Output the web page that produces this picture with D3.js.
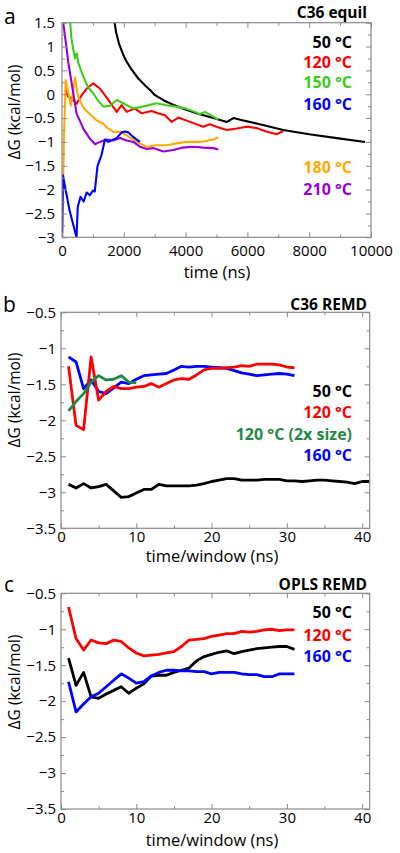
<!DOCTYPE html>
<html><head><meta charset="utf-8">
<script src="https://cdn.jsdelivr.net/npm/d3@7"></script>
<style>body{margin:0;background:#fff;} svg{display:block;font-family:"Open Sans",sans-serif;}</style>
</head><body><svg id="c" width="400" height="853"></svg>
<script>
// ---------- DATA ----------
// Panel a: C36 equil, [time (ns), ΔG]
const a50 = [[1690,1.55],[1750,1.3],[1850,1.05],[2000,0.8],[2093,0.68],[2250,0.52],[2470,0.33],[2700,0.18],[2850,0.09],[3010,-0.02],[3300,-0.13],[3600,-0.22],[3950,-0.31],[4400,-0.41],[4900,-0.5],[5330,-0.58],[5420,-0.55],[5550,-0.5],[5800,-0.54],[6400,-0.63],[7160,-0.75],[8000,-0.84],[8890,-0.92],[9810,-1.0]];
const a120 = [[100,0.1],[200,-0.05],[314,-0.09],[476,-0.2],[560,-0.1],[638,-0.02],[800,0.12],[1013,0.23],[1100,0.18],[1230,0.12],[1500,-0.12],[1770,-0.37],[1930,-0.23],[2094,-0.37],[2362,-0.3],[2580,-0.4],[2900,-0.35],[3100,-0.4],[3333,-0.44],[3550,-0.58],[3764,-0.49],[3980,-0.54],[4142,-0.58],[4573,-0.68],[4790,-0.63],[5000,-0.68],[5330,-0.75],[5654,-0.72],[5977,-0.68],[6300,-0.71],[6600,-0.78],[6948,-0.84],[7160,-0.77]];
const a150 = [[260,1.55],[300,1.2],[366,0.93],[420,0.75],[480,0.86],[530,0.65],[690,0.37],[850,0.14],[1000,0.03],[1150,-0.12],[1340,-0.26],[1550,-0.24],[1770,-0.12],[1980,-0.19],[2300,-0.3],[2620,-0.26],[3050,-0.19],[3370,-0.23],[3690,-0.26],[4000,-0.3],[4300,-0.37],[4460,-0.42],[4620,-0.37],[4900,-0.47],[5050,-0.53]];
const a160 = [[0,-3.2],[30,-1.7],[100,-1.95],[250,-2.45],[470,-3.0],[510,-2.36],[600,-2.15],[700,-2.25],[800,-2.06],[900,-2.12],[1000,-2.02],[1060,-2.04],[1150,-1.5],[1280,-1.27],[1390,-0.95],[1500,-1.0],[1660,-0.95],[1770,-0.92],[1930,-0.8],[2040,-0.78],[2150,-0.8],[2310,-0.9],[2520,-1.0]];
const a180 = [[0,-3.1],[60,-1.0],[120,0.3],[200,0.05],[290,-0.24],[420,0.35],[520,-0.05],[690,-0.28],[900,-0.42],[1120,-0.55],[1340,-0.62],[1450,-0.7],[1660,-0.79],[1880,-0.79],[2090,-0.86],[2310,-0.96],[2520,-1.03],[2740,-1.1],[3060,-1.07],[3390,-1.07],[3710,-1.03],[4000,-1.0],[4470,-1.0],[4900,-0.95],[5060,-0.9]];
const a210 = [[0,1.6],[40,1.5],[150,0.95],[200,0.68],[260,0.44],[366,0.02],[470,-0.4],[690,-0.72],[900,-0.93],[1070,-1.05],[1230,-1.0],[1440,-0.95],[1660,-0.97],[1880,-0.92],[2090,-0.97],[2310,-1.0],[2520,-1.1],[2740,-1.15],[2950,-1.13],[3280,-1.2],[3600,-1.17],[3880,-1.12],[4250,-1.1],[4580,-1.12],[4900,-1.13],[5060,-1.16]];

// Panel b: C36 REMD, ΔG per window (window = 1, 2, 3, ...)
const b50 = [-2.89,-2.94,-2.88,-2.94,-2.92,-2.89,-2.98,-3.07,-3.06,-3.01,-2.96,-2.96,-2.89,-2.91,-2.91,-2.91,-2.91,-2.90,-2.88,-2.85,-2.83,-2.81,-2.81,-2.83,-2.83,-2.83,-2.82,-2.82,-2.82,-2.84,-2.84,-2.85,-2.84,-2.83,-2.83,-2.84,-2.85,-2.86,-2.88,-2.85,-2.85];
const b120 = [-1.25,-2.07,-2.13,-1.12,-1.72,-1.60,-1.53,-1.56,-1.56,-1.54,-1.53,-1.49,-1.54,-1.49,-1.44,-1.42,-1.43,-1.37,-1.30,-1.28,-1.28,-1.27,-1.26,-1.24,-1.25,-1.22,-1.22,-1.22,-1.23,-1.26,-1.27];
const b120x2 = [-1.87,-1.74,-1.63,-1.47,-1.38,-1.44,-1.43,-1.38,-1.47,-1.48];
const b160 = [-1.12,-1.19,-1.56,-1.44,-1.60,-1.63,-1.55,-1.47,-1.49,-1.43,-1.38,-1.37,-1.36,-1.35,-1.30,-1.25,-1.26,-1.25,-1.25,-1.26,-1.27,-1.28,-1.31,-1.34,-1.36,-1.38,-1.37,-1.36,-1.35,-1.36,-1.38];

// Panel c: OPLS REMD
const c50 = [-1.40,-1.78,-1.60,-1.94,-1.96,-1.90,-1.85,-1.80,-1.89,-1.82,-1.76,-1.65,-1.64,-1.64,-1.60,-1.57,-1.54,-1.44,-1.38,-1.35,-1.32,-1.30,-1.34,-1.31,-1.29,-1.27,-1.26,-1.25,-1.24,-1.24,-1.28];
const c120 = [-0.69,-1.13,-1.29,-1.15,-1.19,-1.20,-1.15,-1.17,-1.26,-1.33,-1.37,-1.36,-1.35,-1.33,-1.31,-1.24,-1.15,-1.14,-1.13,-1.10,-1.08,-1.06,-1.06,-1.03,-1.04,-1.03,-1.01,-1.00,-1.02,-1.01,-1.01];
const c160 = [-1.73,-2.15,-2.04,-1.94,-1.89,-1.80,-1.71,-1.62,-1.68,-1.75,-1.73,-1.65,-1.60,-1.57,-1.57,-1.58,-1.58,-1.59,-1.59,-1.62,-1.60,-1.60,-1.60,-1.62,-1.63,-1.63,-1.66,-1.66,-1.62,-1.62,-1.62];

// tick values
const aXTicks = [0,2000,4000,6000,8000,10000];
const aYTicks = [-3,-2.5,-2,-1.5,-1,-0.5,0,0.5,1,1.5];
const rXTicks = [0,10,20,30,40];
const rYTicks = [-3.5,-3,-2.5,-2,-1.5,-1,-0.5];

// labels
const aLegend = ["50 °C","120 °C","150 °C","160 °C","180 °C","210 °C"];
const bLegend = ["50 °C","120 °C","120 °C (2x size)","160 °C"];
const cLegend = ["50 °C","120 °C","160 °C"];

// ---------- DRAWING ----------
const COL = {black:"#000", red:"#ff0000", green:"#3fcc1a", blue:"#0000ff", orange:"#ffaa00", purple:"#9a00d8", dgreen:"#1f8a45"};
const FRAME = "#8a8a8a";
const svg = d3.select("#c");
const fmt = d => d3.format("")(d);

function panel(o){
  const g = svg.append("g");
  const x = d3.scaleLinear(o.xd, [o.l, o.r]);
  const y = d3.scaleLinear(o.yd, [o.b, o.t]);
  const id = "clip"+o.key;
  svg.append("clipPath").attr("id", id).append("rect")
    .attr("x", o.l).attr("y", o.t).attr("width", o.r-o.l).attr("height", o.b-o.t);

  const line = d3.line().x(d=>x(d[0])).y(d=>y(d[1]));
  const lg = g.append("g").attr("clip-path", `url(#${id})`);
  o.series.forEach(s => {
    lg.append("path").datum(s.data).attr("d", line)
      .attr("fill","none").attr("stroke", s.color).attr("stroke-width", o.lw)
      .attr("stroke-linejoin","round");
  });

  const styleAxis = sel => { sel.select(".domain").remove(); sel.selectAll(".tick line").attr("stroke", FRAME); sel.selectAll("text").attr("fill","#000").attr("font-size", o.tfs).attr("font-family","Open Sans"); };
  g.append("g").attr("transform",`translate(0,${o.b})`)
    .call(d3.axisBottom(x).tickValues(o.xt).tickSize(-5).tickPadding(o.xpad).tickFormat(fmt)).call(styleAxis);
  g.append("g").attr("transform",`translate(0,${o.b})`)
    .call(d3.axisBottom(x).tickValues(o.xm).tickSize(-3).tickFormat("")).call(styleAxis);
  g.append("g").attr("transform",`translate(0,${o.t})`)
    .call(d3.axisTop(x).tickValues(o.xt).tickSize(-5).tickFormat("")).call(styleAxis);
  g.append("g").attr("transform",`translate(0,${o.t})`)
    .call(d3.axisTop(x).tickValues(o.xm).tickSize(-3).tickFormat("")).call(styleAxis);
  g.append("g").attr("transform",`translate(${o.l},0)`)
    .call(d3.axisLeft(y).tickValues(o.yt).tickSize(-5).tickPadding(o.ypad).tickFormat(fmt)).call(styleAxis);
  g.append("g").attr("transform",`translate(${o.l},0)`)
    .call(d3.axisLeft(y).tickValues(o.ym).tickSize(-3).tickFormat("")).call(styleAxis);
  g.append("g").attr("transform",`translate(${o.r},0)`)
    .call(d3.axisRight(y).tickValues(o.yt).tickSize(-5).tickFormat("")).call(styleAxis);
  g.append("g").attr("transform",`translate(${o.r},0)`)
    .call(d3.axisRight(y).tickValues(o.ym).tickSize(-3).tickFormat("")).call(styleAxis);

  g.append("rect").attr("x",o.l).attr("y",o.t).attr("width",o.r-o.l).attr("height",o.b-o.t)
    .attr("fill","none").attr("stroke",FRAME).attr("stroke-width",1.2);

  g.append("text").attr("x",o.lx).attr("y",o.ly).attr("font-size",21).text(o.letter);
  g.append("text").attr("x",367).attr("y",o.titleY).attr("text-anchor","end")
    .attr("font-size",15.5).attr("font-weight","bold").text(o.title);
  g.append("text").attr("x",o.xlabX).attr("y",o.xlabY).attr("text-anchor","middle")
    .attr("font-size",16.5).text(o.xlabel);
  g.append("text").attr("transform",`translate(20,${o.ylabC}) rotate(-90)`).attr("text-anchor","middle")
    .attr("font-size",15.5).text("ΔG (kcal/mol)");
  o.legend.forEach((t,i)=>{
    g.append("text").attr("x",352).attr("y",o.legY[i]).attr("text-anchor","end")
      .attr("font-size",16).attr("font-weight","bold").attr("fill",o.legC[i]).text(t);
  });
}

const idx = arr => arr.map((v,i)=>[i+1, v]);

panel({key:"a", l:62, r:371, t:22.7, b:237.3, xd:[0,10000], yd:[-3,1.5],
  xt:aXTicks, xm:d3.range(1000,10000,2000), yt:aYTicks, ym:d3.range(-2.75,1.5,0.5),
  xpad:8, ypad:7, tfs:15, lw:2.1,
  series:[{data:a50,color:COL.black},{data:a120,color:COL.red},{data:a180,color:COL.orange},{data:a210,color:COL.purple},{data:a150,color:COL.green},{data:a160,color:COL.blue}],
  letter:"a", lx:4, ly:24, title:"C36 equil", titleY:18,
  xlabel:"time (ns)", xlabX:217, xlabY:278, ylabC:112,
  legend:aLegend, legY:[48,67.5,88,110,173,195], legC:[COL.black,COL.red,COL.green,COL.blue,COL.orange,COL.purple]});

panel({key:"b", l:61, r:369.7, t:312.3, b:528.3, xd:[0,41], yd:[-3.5,-0.5],
  xt:rXTicks, xm:[5,15,25,35], yt:rYTicks, ym:d3.range(-3.25,-0.5,0.5),
  xpad:3, ypad:5, tfs:15, lw:2.8,
  series:[{data:idx(b50),color:COL.black},{data:idx(b160),color:COL.blue},{data:idx(b120),color:COL.red},{data:idx(b120x2),color:COL.dgreen}],
  letter:"b", lx:3, ly:312, title:"C36 REMD", titleY:310,
  xlabel:"time/window (ns)", xlabX:212, xlabY:562, ylabC:400,
  legend:bLegend, legY:[396.5,418,439.5,461], legC:[COL.black,COL.red,COL.dgreen,COL.blue]});

panel({key:"c", l:61, r:369.7, t:593.3, b:809, xd:[0,41], yd:[-3.5,-0.5],
  xt:rXTicks, xm:[5,15,25,35], yt:rYTicks, ym:d3.range(-3.25,-0.5,0.5),
  xpad:3, ypad:5, tfs:15, lw:2.8,
  series:[{data:idx(c50),color:COL.black},{data:idx(c160),color:COL.blue},{data:idx(c120),color:COL.red}],
  letter:"c", lx:4, ly:592, title:"OPLS REMD", titleY:590,
  xlabel:"time/window (ns)", xlabX:212, xlabY:846, ylabC:682,
  legend:cLegend, legY:[618,640.5,662], legC:[COL.black,COL.red,COL.blue]});
</script></body></html>
